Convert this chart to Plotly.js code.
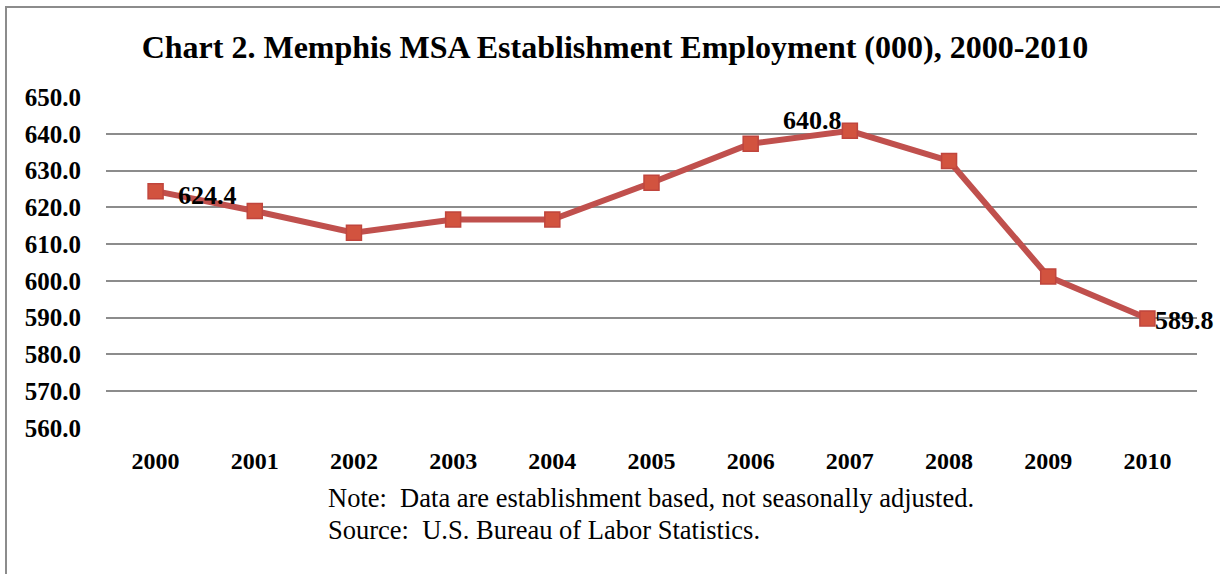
<!DOCTYPE html>
<html>
<head>
<meta charset="utf-8">
<script src="https://cdn.plot.ly/plotly-3.0.1.min.js"></script>
<style>
  html, body { margin: 0; padding: 0; background: #fff; }
  #wrap { position: relative; width: 1220px; height: 574px; overflow: hidden; }
  #chart { position: absolute; left: 0; top: 0; width: 1220px; height: 574px; }
  #frame { position: absolute; left: 5px; top: 6px; width: 1230px; height: 600px;
           border-left: 2px solid #8c8c8c; border-top: 2px solid #8c8c8c; pointer-events: none; }
</style>
</head>
<body>
<div id="wrap">
  <div id="chart"></div>
  <div id="frame"></div>
</div>
<script>
const years = ["2000","2001","2002","2003","2004","2005","2006","2007","2008","2009","2010"];
const employment = [624.4, 619.0, 613.1, 616.7, 616.7, 626.7, 637.3, 640.8, 632.6, 601.2, 589.8];
const yTicks = [560, 570, 580, 590, 600, 610, 620, 630, 640, 650];
const labelledYears = ["2000", "2007", "2010"];
const titleText = "Chart 2. Memphis MSA Establishment Employment (000), 2000-2010";
const noteLines = ["Note:  Data are establishment based, not seasonally adjusted.",
                   "Source:  U.S. Bureau of Labor Statistics."];

const serif = "Liberation Serif, Times New Roman, serif";
const W = 1220, H = 574;
const PL = 106, PR = 1197, PT = 97, PB = 428;

const trace = {
  x: years,
  y: employment,
  type: "scatter",
  mode: "lines+markers",
  line: { color: "#c0504d", width: 6 },
  marker: { symbol: "square", size: 15, color: "#d2533f", line: { color: "#c0453d", width: 1.5 } },
  hoverinfo: "x+y",
  showlegend: false
};

const anns = [];
labelledYears.forEach(function (yr) {
  const i = years.indexOf(yr);
  let a = { x: i, y: employment[i], xref: "x", yref: "y", text: "<b>" + employment[i].toFixed(1) + "</b>",
            showarrow: false, font: { family: serif, size: 26, color: "#000" } };
  if (yr === "2007") { a.xanchor = "right"; a.yanchor = "bottom"; a.xshift = -6; a.yshift = -6; }
  else if (yr === "2010") { a.xanchor = "left"; a.yanchor = "middle"; a.xshift = 6; a.yshift = -2; }
  else { a.xanchor = "left"; a.yanchor = "middle"; a.xshift = 20; a.yshift = -4; }
  anns.push(a);
});
noteLines.forEach(function (t, k) {
  anns.push({ x: (326 - PL) / (PR - PL), y: (PB - (498 + k * 32)) / (PB - PT), xref: "paper", yref: "paper", text: t,
    showarrow: false, xanchor: "left", yanchor: "middle",
    font: { family: serif, size: 26.5, color: "#000" } });
});

const layout = {
  width: W, height: H,
  margin: { l: PL, r: W - PR, t: PT, b: H - PB, pad: 0 },
  paper_bgcolor: "#fff", plot_bgcolor: "#fff",
  title: { text: "<b>" + titleText + "</b>", x: 615 / W, xanchor: "center", y: 1 - 47 / H, yanchor: "middle",
           font: { family: serif, size: 32, color: "#000" } },
  xaxis: { type: "category", range: [-0.5, 10.5], showgrid: false, zeroline: false, showline: false,
           ticks: "", tickfont: { family: serif, size: 24, color: "#000" }, ticklabelstandoff: 16,
           tickprefix: "<b>", ticksuffix: "</b>", fixedrange: true },
  yaxis: { range: [560, 650], tickvals: yTicks, ticktext: yTicks.map(v => "<b>" + v.toFixed(1) + "</b>"),
           showgrid: true, gridcolor: "#8c8c8c", gridwidth: 2, zeroline: false, showline: false,
           ticks: "", tickfont: { family: serif, size: 25, color: "#000" }, ticklabelstandoff: 24, fixedrange: true },
  annotations: anns,
  showlegend: false
};

Plotly.newPlot("chart", [trace], layout, { displayModeBar: false, staticPlot: true });
</script>
</body>
</html>
